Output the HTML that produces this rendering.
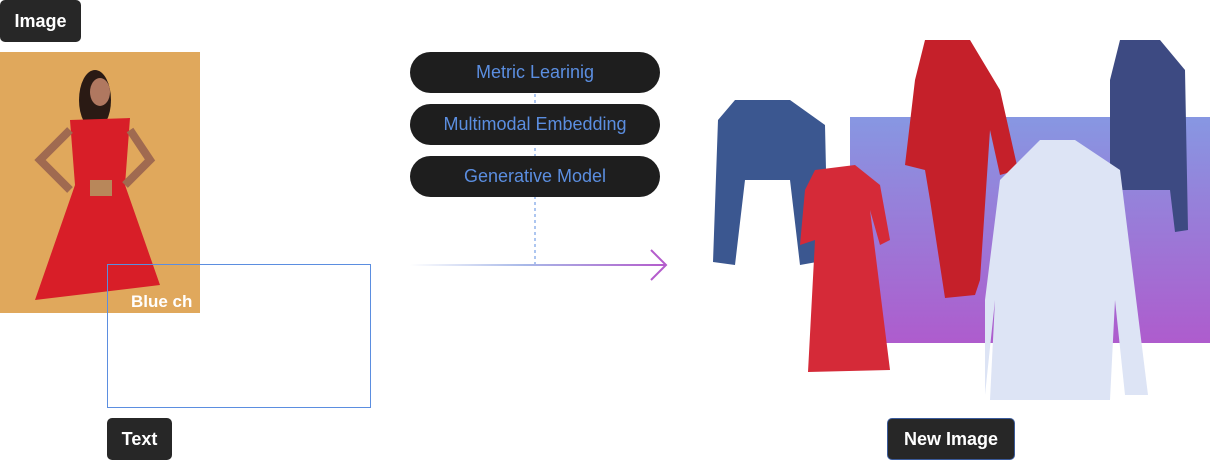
<!DOCTYPE html>
<html><head><style>
body{margin:0;width:1211px;height:460px;background:#fff;position:relative;overflow:hidden;font-family:"Liberation Sans",sans-serif}
.tag{position:absolute;background:#272727;color:#fff;font-weight:bold;font-size:18px;border-radius:5px;display:flex;align-items:center;justify-content:center}
.pill{position:absolute;left:410px;width:250px;height:41px;border-radius:21px;background:#1e1e1e;color:#5b8ee0;font-size:18px;display:flex;align-items:center;justify-content:center}
</style></head><body>
<div class="tag" style="left:0;top:0;width:81px;height:42px">Image</div>
<svg style="position:absolute;left:0;top:0" width="1211" height="460">
<defs>
<linearGradient id="arr" x1="0" y1="0" x2="1" y2="0"><stop offset="0" stop-color="#fff"/><stop offset="0.45" stop-color="#a8b8e8"/><stop offset="1" stop-color="#b45ccc"/></linearGradient>
<linearGradient id="pg" x1="0" y1="0" x2="0" y2="1"><stop offset="0" stop-color="#8797e2"/><stop offset="1" stop-color="#ae5ccd"/></linearGradient>
</defs>
<rect x="0" y="52" width="200" height="261" fill="#e0a85c"/>
<ellipse cx="95" cy="100" rx="16" ry="30" fill="#2a1a14"/>
<ellipse cx="100" cy="92" rx="10" ry="14" fill="#b07860"/>
<path d="M70 120 L130 118 L125 185 L160 285 L35 300 L75 185 Z" fill="#d81e28"/>
<path d="M70 130 L40 160 L70 190" stroke="#a06a50" stroke-width="8" fill="none"/>
<path d="M130 130 L150 160 L125 185" stroke="#a06a50" stroke-width="8" fill="none"/>
<rect x="90" y="180" width="22" height="16" fill="#b8875a"/>
<rect x="107.5" y="264.5" width="263" height="143" fill="none" stroke="#5b8ee0" stroke-width="1"/>
<text x="131" y="307" font-size="17" font-weight="bold" fill="#fff" font-family="Liberation Sans">Blue ch</text>
<line x1="535" y1="94" x2="535" y2="265" stroke="#5b8ee0" stroke-dasharray="3,3"/>
<rect x="410" y="264" width="255" height="2" fill="url(#arr)"/>
<path d="M651 250 L666 265 L651 280" stroke="#b45ccc" stroke-width="2" fill="none"/>
<rect x="850" y="117" width="360" height="226" fill="url(#pg)"/>
<path d="M735 100 L790 100 L825 125 L828 260 L800 265 L790 180 L745 180 L735 265 L713 262 L718 120 Z" fill="#3b5790"/>
<path d="M815 170 L855 165 L880 185 L890 240 L880 245 L870 210 L890 370 L808 372 L815 240 L800 245 L805 190 Z" fill="#d52a38"/>
<path d="M925 40 L970 40 L1000 90 L1018 170 L1000 175 L990 130 L980 280 L975 295 L945 298 L930 200 L925 170 L905 165 L915 80 Z" fill="#c5202a"/>
<path d="M1120 40 L1160 40 L1185 70 L1188 230 L1175 232 L1170 190 L1120 190 L1118 232 L1110 230 L1110 80 Z" fill="#3d4a82"/>
<path d="M1040 140 L1075 140 L1120 170 L1148 395 L1125 395 L1115 300 L1110 400 L990 400 L995 300 L985 395 L985 300 L1000 180 Z" fill="#dde4f5"/>
</svg>
<div class="pill" style="top:52px">Metric Learinig</div>
<div class="pill" style="top:104px">Multimodal Embedding</div>
<div class="pill" style="top:156px">Generative Model</div>
<div class="tag" style="left:107px;top:418px;width:65px;height:42px">Text</div>
<div class="tag" style="left:887px;top:418px;width:128px;height:42px;border:1px solid #3a5a9a;box-sizing:border-box">New Image</div>
</body></html>
